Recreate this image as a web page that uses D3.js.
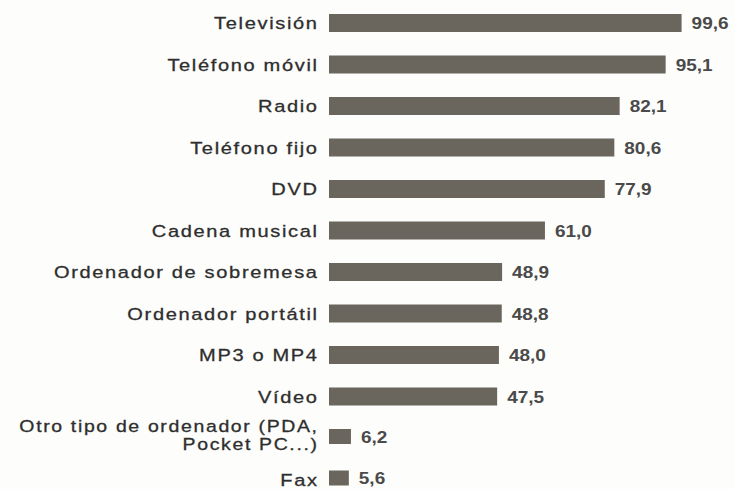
<!DOCTYPE html>
<html><head><meta charset="utf-8">
<script src="https://cdn.jsdelivr.net/npm/d3@7"></script>
<style>body{margin:0;background:#fdfdfb;} svg{display:block;}</style>
</head><body>
<script>
const categories = ["Televisión","Teléfono móvil","Radio","Teléfono fijo","DVD","Cadena musical","Ordenador de sobremesa","Ordenador portátil","MP3 o MP4","Vídeo","Otro tipo de ordenador (PDA,|Pocket PC...)","Fax"];
const values = [99.6,95.1,82.1,80.6,77.9,61.0,48.9,48.8,48.0,47.5,6.2,5.6];
const valueLabels = ["99,6","95,1","82,1","80,6","77,9","61,0","48,9","48,8","48,0","47,5","6,2","5,6"];

const W=735,H=489;
const svg=d3.select("body").append("svg").attr("width",W).attr("height",H);
svg.append("rect").attr("width",W).attr("height",H).attr("fill","#fdfdfb");
const x0=329;
const x=d3.scaleLinear().domain([0,100]).range([0,354]);
const step=41.5;
const y=d3.scaleBand().domain(categories).range([14,14+step*categories.length]).padding(0);
const bh=18;
const sx=1.18, ls=1.4;

const g=svg.append("g");
g.selectAll("rect.bar").data(categories).join("rect").attr("class","bar")
 .attr("x",x0).attr("y",d=>y(d)).attr("width",(d,i)=>x(values[i])).attr("height",(d,i)=>i>=10?15:bh)
 .attr("fill","#6a665e");

const lab=g.selectAll("g.lab").data(categories).join("g").attr("class","lab")
 .attr("transform",d=>`translate(${317+ls*sx},${y(d)+bh/2+6}) scale(${sx},1)`);
lab.each(function(d){
  const parts=d.split("|");
  const multi=parts.length>1;
  parts.forEach((p,k)=>d3.select(this).append("text").attr("text-anchor","end")
   .attr("font-family","Liberation Sans, Arial, sans-serif").attr("font-size",multi?16.5:17)
   .attr("letter-spacing",ls).attr("fill","#2e2e2e").attr("stroke","#2e2e2e").attr("stroke-width",0.3)
   .attr("y",multi?(k?6:-12):0).text(p));
});

g.selectAll("g.val").data(categories).join("g").attr("class","val")
 .attr("transform",(d,i)=>`translate(${x0+x(values[i])+10},${y(d)+(i>=10?7.5:bh/2)+6}) scale(1.15,1)`)
 .append("text").attr("font-family","Liberation Sans, Arial, sans-serif").attr("font-size",16.5)
 .attr("font-weight","bold").attr("fill","#4a4a4a").text((d,i)=>valueLabels[i]);
</script>
</body></html>
